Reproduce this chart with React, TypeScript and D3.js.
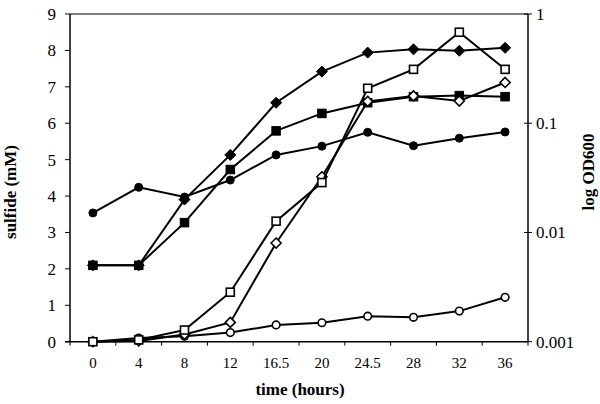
import React from "react";
import * as d3 from "d3";

const times = ["0", "4", "8", "12", "16.5", "20", "24.5", "28", "32", "36"];
// OD600 (right, log axis) - filled symbols
const odCircle = [0.0151, 0.0259, 0.0211, 0.0302, 0.0513, 0.0617, 0.0826, 0.0622, 0.073, 0.0832];
const odSquare = [0.005, 0.005, 0.0123, 0.0377, 0.0851, 0.123, 0.154, 0.175, 0.179, 0.175];
const odDiamond = [0.005, 0.005, 0.02, 0.0513, 0.154, 0.297, 0.443, 0.475, 0.461, 0.49];
// sulfide mM (left axis) - open symbols
const sulSquare = [0, 0.05, 0.32, 1.36, 3.31, 4.37, 6.96, 7.48, 8.5, 7.48];
const sulDiamond = [0, 0.02, 0.2, 0.53, 2.71, 4.53, 6.6, 6.75, 6.61, 7.12];
const sulCircle = [0, 0.1, 0.15, 0.25, 0.46, 0.52, 0.7, 0.67, 0.84, 1.22];
const leftTicks = [0, 1, 2, 3, 4, 5, 6, 7, 8, 9];
const rightTicks = [0.001, 0.01, 0.1, 1];

const L = 70, R = 528, T = 14, B = 341.7;
const FONT = "'Liberation Serif', 'Times New Roman', serif";

function Marker({ shape, filled, x, y }: { shape: string; filled: boolean; x: number; y: number }) {
  const fill = filled ? "#000" : "#fff";
  const sw = filled ? 1 : 1.6;
  if (shape === "circle") return <circle cx={x} cy={y} r={filled ? 4 : 3.8} fill={fill} stroke="#000" strokeWidth={sw} />;
  if (shape === "square") {
    const s = filled ? 8.5 : 8;
    return <rect x={x - s / 2} y={y - s / 2} width={s} height={s} fill={fill} stroke="#000" strokeWidth={sw} />;
  }
  const h = filled ? 5.5 : 5;
  return <path d={`M${x},${y - h}L${x + h},${y}L${x},${y + h}L${x - h},${y}Z`} fill={fill} stroke="#000" strokeWidth={sw} />;
}

export default function App() {
  const x = d3.scaleBand<string>().domain(times).range([L, R]);
  const xc = (t: string) => (x(t) as number) + x.bandwidth() / 2;
  const yL = d3.scaleLinear().domain([0, 9]).range([B, T]);
  const yR = d3.scaleLog().domain([0.001, 1]).range([B, T]);

  const series = [
    { vals: odCircle, scale: yR, shape: "circle", filled: true },
    { vals: odSquare, scale: yR, shape: "square", filled: true },
    { vals: odDiamond, scale: yR, shape: "diamond", filled: true },
    { vals: sulCircle, scale: yL, shape: "circle", filled: false },
    { vals: sulDiamond, scale: yL, shape: "diamond", filled: false },
    { vals: sulSquare, scale: yL, shape: "square", filled: false },
  ];

  const bounds = d3.range(times.length + 1).map((i) => L + i * x.step());

  return (
    <svg width={600} height={404} style={{ position: "absolute", left: 0, top: 0, background: "#fff" }} fontFamily={FONT}>
      <rect x={0} y={0} width={600} height={404} fill="#fff" />
      {/* frame */}
      <line x1={L} y1={T} x2={R} y2={T} stroke="#000" strokeWidth={1.2} />
      <line x1={L} y1={T} x2={L} y2={B} stroke="#000" strokeWidth={1.5} />
      <line x1={R} y1={T} x2={R} y2={B} stroke="#000" strokeWidth={1.5} />
      <line x1={L - 5} y1={B} x2={R} y2={B} stroke="#000" strokeWidth={1.5} />
      {/* left ticks */}
      {leftTicks.map((v) => (
        <g key={"l" + v}>
          <line x1={L - 5} x2={L} y1={yL(v)} y2={yL(v)} stroke="#000" strokeWidth={1} />
          <text x={56} y={yL(v)} dy="0.35em" textAnchor="end" fontSize={17}>{v}</text>
        </g>
      ))}
      {/* right ticks */}
      {rightTicks.map((v) => (
        <g key={"r" + v}>
          <line x1={R - 4} x2={R + 4} y1={yR(v)} y2={yR(v)} stroke="#000" strokeWidth={1} />
          <text x={536} y={yR(v)} dy="0.35em" textAnchor="start" fontSize={17}>{v}</text>
        </g>
      ))}
      {/* bottom ticks */}
      {bounds.map((b, i) => (
        <line key={"b" + i} x1={b} x2={b} y1={B} y2={B + 4} stroke="#000" strokeWidth={1} />
      ))}
      {times.map((t) => (
        <text key={"t" + t} x={xc(t)} y={368} textAnchor="middle" fontSize={15}>{t}</text>
      ))}
      {/* titles */}
      <text x={300} y={395} textAnchor="middle" fontSize={17} fontWeight="bold">time (hours)</text>
      <text transform="translate(16,192) rotate(-90)" textAnchor="middle" fontSize={17} fontWeight="bold">sulfide (mM)</text>
      <text transform="translate(594,172) rotate(-90)" textAnchor="middle" fontSize={17} fontWeight="bold">log OD600</text>
      {/* series */}
      {series.map((s, i) => {
        const line = d3.line<number>().x((_, j) => xc(times[j])).y((d) => s.scale(d));
        return (
          <g key={"s" + i}>
            <path d={line(s.vals) || ""} fill="none" stroke="#000" strokeWidth={2} />
            {s.vals.map((v, j) => (
              <Marker key={j} shape={s.shape} filled={s.filled} x={xc(times[j])} y={s.scale(v)} />
            ))}
          </g>
        );
      })}
    </svg>
  );
}
